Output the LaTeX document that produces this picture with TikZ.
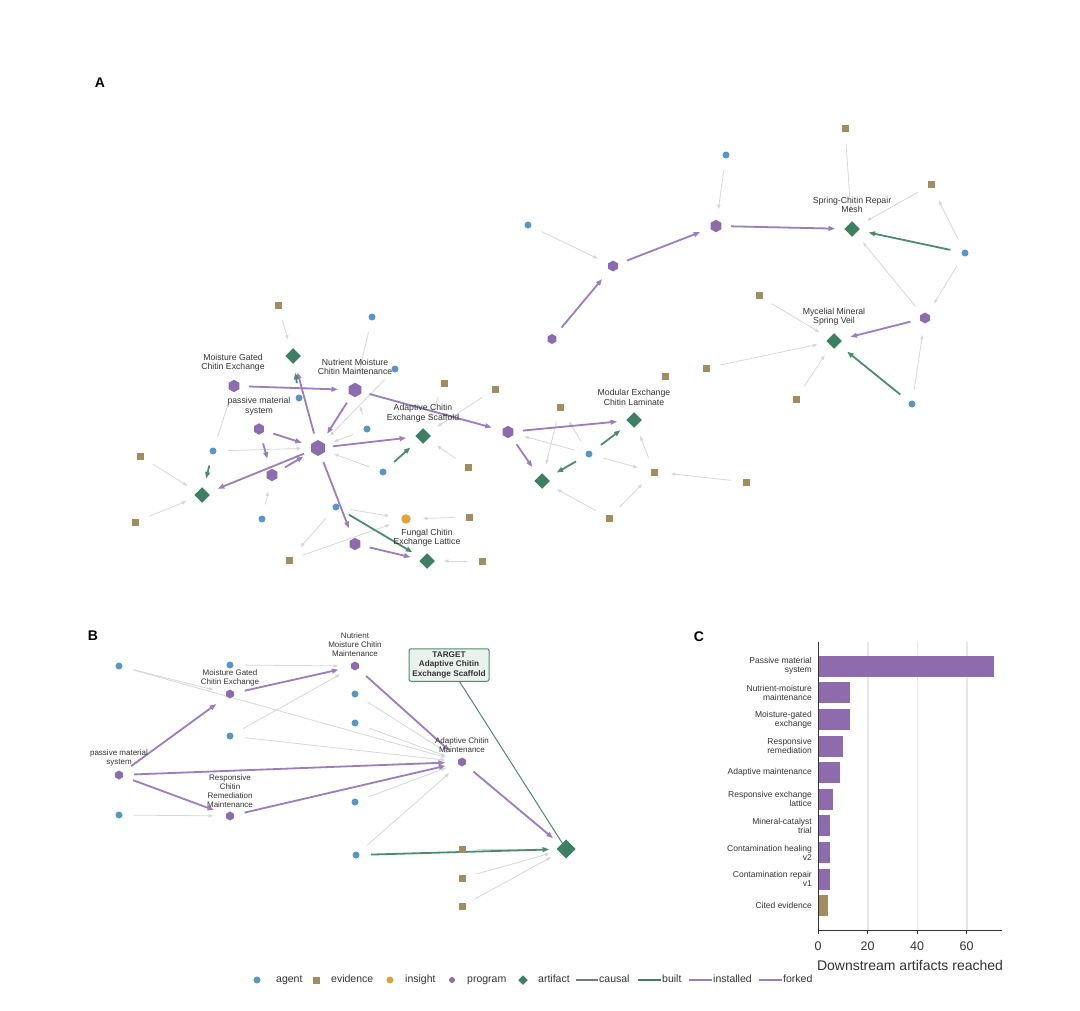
\documentclass[tikz,border=0pt]{standalone}
\usepackage{fontspec}
\setmainfont{Liberation Sans}
\usetikzlibrary{shapes.geometric,arrows.meta}
\definecolor{cAg}{HTML}{5697C5}
\definecolor{cEv}{HTML}{A38C5E}
\definecolor{cIn}{HTML}{E0A53A}
\definecolor{cPg}{HTML}{8E6BAC}
\definecolor{cAr}{HTML}{3D7F62}
\definecolor{cPE}{HTML}{9B7DC0}
\definecolor{cGE}{HTML}{4B8C6E}
\definecolor{cLE}{HTML}{D4D8DB}
\definecolor{cCa}{HTML}{6B7A86}
\definecolor{cTb}{HTML}{E9F2ED}
\definecolor{cGr}{HTML}{E6E6E6}
\definecolor{cTx}{HTML}{333333}
\pgfdeclarelayer{bg}
\pgfdeclarelayer{paper}
\pgfsetlayers{paper,bg,main}
\begin{document}
\begin{tikzpicture}[x=1pt,y=-1pt,
 mk/.style={inner sep=0pt, outer sep=0pt},
 ag/.style={mk, circle, fill=cAg, minimum size=7pt},
 ev/.style={mk, rectangle, fill=cEv, minimum size=7pt},
 ins/.style={mk, circle, fill=cIn, minimum size=9.5pt},
 pg/.style={mk, regular polygon, regular polygon sides=6, shape border rotate=30, fill=cPg, minimum size=#1},
 pg/.default=12.5pt,
 pgb/.style={pg=9pt},
 ar/.style={mk, diamond, aspect=1, fill=cAr, minimum size=#1},
 ar/.default=15.5pt,
 le/.style={draw=cLE, line width=0.8pt, -{Triangle[length=4.5pt,width=3.2pt]}, shorten <=15pt, shorten >=17pt},
 pe/.style={draw=cPE, line width=1.8pt, -{Triangle[length=6.5pt,width=4.8pt]}, shorten <=15pt, shorten >=17pt},
 ge/.style={draw=cGE, line width=1.8pt, -{Triangle[length=6.5pt,width=4.8pt]}, shorten <=15pt, shorten >=17pt},
 lblA/.style={font=\fontsize{8.7}{9.5}\selectfont, align=center, text=cTx, inner sep=0pt},
 lblB/.style={font=\fontsize{8}{9}\selectfont, align=center, text=cTx, inner sep=0pt},
 clab/.style={font=\fontsize{8.5}{9}\selectfont, align=right, text=cTx, inner sep=0pt},
 pnl/.style={font=\bfseries\fontsize{14}{16}\selectfont, text=black, inner sep=0pt},
 lgt/.style={font=\fontsize{10.5}{12}\selectfont, text=cTx, inner sep=0pt, anchor=west, text height=7.6pt, text depth=2.2pt},
 tick/.style={font=\fontsize{12.5}{14}\selectfont, text=cTx, inner sep=0pt}
]
\useasboundingbox (0,0) rectangle (1080,1011);
\begin{pgfonlayer}{paper}
\fill[white] (0,0) rectangle (1080,1011);
\end{pgfonlayer}

% ---------------- Panel A ----------------
\node[pnl] (LA) at (100,83) {A};
% top right cluster
\node[ag] (a1) at (726,155) {};
\node[ag] (a2) at (528,225) {};
\node[pg] (p1) at (716,226) {};
\node[pg=11pt] (p2) at (613,266) {};
\node[pg=10pt] (p3) at (552,339) {};
\node[ev] (e1) at (845,129) {};
\node[ev] (e2) at (931,185) {};
\node[ar] (f1) at (852,229) {};
\node[ag] (a3) at (965,253) {};
\node[ev] (e3) at (759,296) {};
\node[pg=11pt] (p4) at (925,318) {};
\node[ar] (f2) at (834,341) {};
\node[ev] (e4) at (706,368) {};
\node[ev] (e5) at (796,399) {};
\node[ag] (a4) at (912,404) {};
\node[ev] (e6) at (665,376) {};
% middle right
\node[ev] (e7) at (495,389) {};
\node[ev] (e8) at (444,383) {};
\node[ev] (e9) at (560,407) {};
\node[pg] (p5) at (508,432) {};
\node[ar] (f3) at (634,420) {};
\node[ag] (a5) at (589,454) {};
\node[ev] (e10) at (654,472) {};
\node[ev] (e11) at (746,482) {};
\node[ar] (f4) at (542,481) {};
\node[ev] (e12) at (609,518) {};
% centre left
\node[ar] (f5) at (423,436) {};
\node[ev] (e13) at (468,467) {};
\node[ag] (a6) at (383,472) {};
\node[ag] (a7) at (367,429) {};
\node[pg=16pt] (hub) at (318,448) {};
\node[pg=14.5pt] (p6) at (355,390) {};
\node[ag] (a8) at (372,317) {};
\node[ag] (a9) at (395,369) {};
\node[pg] (p7) at (234,386) {};
\node[ar] (f6) at (293,356) {};
\node[ev] (e14) at (278,306) {};
\node[ag] (a10) at (299,398) {};
\node[pg=11.5pt] (p8) at (259,429) {};
\node[ag] (a11) at (213,451) {};
\node[pg] (p9) at (272,475) {};
\node[ar] (f7) at (202,495) {};
\node[ag] (a12) at (262,519) {};
\node[ag] (a13) at (336,507) {};
\node[ins] (i1) at (406,519) {};
\node[pg] (p10) at (355,544) {};
\node[ar] (f8) at (427,561) {};
\node[ev] (e15) at (469,517) {};
\node[ev] (e16) at (482,561) {};
\node[ev] (e17) at (289,560) {};
\node[ev] (e18) at (140,456) {};
\node[ev] (e19) at (135,522) {};

% labels A
\node[lblA] (lf1) at (852,205) {Spring-Chitin Repair\\Mesh};
\node[lblA] (lf2) at (834,317) {Mycelial Mineral\\Spring Veil};
\node[lblA] (lf3) at (634,397.5) {Modular Exchange\\Chitin Laminate};
\node[lblA] (lf5) at (423,413) {Adaptive Chitin\\Exchange Scaffold};
\node[lblA] (lp6) at (355,366.7) {Nutrient Moisture\\Chitin Maintenance};
\node[lblA] (lp7) at (233,363) {Moisture Gated\\Chitin Exchange};
\node[lblA] (lp8) at (259,406) {passive material\\system};
\node[lblA] (lf8) at (427,537.5) {Fungal Chitin\\Exchange Lattice};

\begin{pgfonlayer}{bg}
% light edges
\draw[le] (a1.center) -- (p1.center);
\draw[le] (a2.center) -- (p2.center);
\draw[le] (e1.center) -- (f1.center);
\draw[le] (e2.center) -- (f1.center);
\draw[le] (a3.center) -- (e2.center);
\draw[le] (a3.center) -- (p4.center);
\draw[le] (p4.center) -- (f1.center);
\draw[le] (e3.center) -- (f2.center);
\draw[le] (e4.center) -- (f2.center);
\draw[le] (e5.center) -- (f2.center);
\draw[le] (a4.center) -- (p4.center);
\draw[le] (a5.center) -- (p5.center);
\draw[le] (a5.center) -- (e10.center);
\draw[le] (a5.center) -- (e9.center);
\draw[le] (e9.center) -- (f4.center);
\draw[le] (e10.center) -- (f3.center);
\draw[le] (e11.center) -- (e10.center);
\draw[le] (e12.center) -- (f4.center);
\draw[le] (e12.center) -- (e10.center);
\draw[le] (e7.center) -- (f5.center);
\draw[le] (e8.center) -- (f5.center);
\draw[le] (e13.center) -- (f5.center);
\draw[le] (a7.center) -- (hub.center);
\draw[le] (a7.center) -- (p6.center);
\draw[le] (a9.center) -- (hub.center);
\draw[le] (a8.center) -- (p6.center);
\draw[le] (a6.center) -- (hub.center);
\draw[le] (e14.center) -- (f6.center);
\draw[le] (a11.center) -- (hub.center);
\draw[le] (a11.center) -- (p7.center);
\draw[le] (a12.center) -- (p9.center);
\draw[le] (e18.center) -- (f7.center);
\draw[le] (e19.center) -- (f7.center);
\draw[le] (a13.center) -- (i1.center);
\draw[le] (a13.center) -- (e17.center);
\draw[le] (e17.center) -- (i1.center);
\draw[le] (e15.center) -- (i1.center);
\draw[le] (e16.center) -- (f8.center);
% installed / forked (purple)
\draw[pe] (p3.center) -- (p2.center);
\draw[pe] (p2.center) -- (p1.center);
\draw[pe] (p1.center) -- (f1.center);
\draw[pe] (p4.center) -- (f2.center);
\draw[pe] (p5.center) -- (f3.center);
\draw[pe] (p5.center) -- (f4.center);
\draw[pe] (p7.center) -- (p6.center);
\draw[pe] (p6.center) -- (hub.center);
\draw[pe] (p6.center) -- (p5.center);
\draw[pe] (hub.center) -- (f6.center);
\draw[pe] (hub.center) -- (f5.center);
\draw[pe] (hub.center) -- (p10.center);
\draw[pe] (hub.center) -- (f7.center);
\draw[pe] (p8.center) -- (hub.center);
\draw[pe] (p8.center) -- (p9.center);
\draw[pe] (p9.center) -- (hub.center);
\draw[pe] (p10.center) -- (f8.center);
% built (green)
\draw[ge] (a3.center) -- (f1.center);
\draw[ge] (a4.center) -- (f2.center);
\draw[ge] (a5.center) -- (f3.center);
\draw[ge] (a5.center) -- (f4.center);
\draw[ge] (a6.center) -- (f5.center);
\draw[ge] (a10.center) -- (f6.center);
\draw[ge] (a11.center) -- (f7.center);
\draw[ge] (a13.center) -- (f8.center);
\end{pgfonlayer}

% ---------------- Panel B ----------------
\node[pnl] (LB) at (93,636) {B};
\node[ag] (ba1) at (119,666) {};
\node[ag] (ba2) at (230,665) {};
\node[pgb] (bp1) at (230,694) {};
\node[ag] (ba3) at (230,736) {};
\node[pgb] (bp2) at (119,775) {};
\node[ag] (ba4) at (119,815) {};
\node[pgb] (bp3) at (230,816) {};
\node[pgb] (bp4) at (355,666) {};
\node[ag] (ba5) at (355,694) {};
\node[ag] (ba6) at (355,723) {};
\node[ag] (ba7) at (355,802) {};
\node[ag] (ba8) at (356,855) {};
\node[pgb] (bp5) at (462,762) {};
\node[ar=19pt] (bt) at (566,849) {};
\node[ev] (be1) at (462,849) {};
\node[ev] (be2) at (462,878) {};
\node[ev] (be3) at (462,906) {};

\node[lblB] (lb1) at (355,644.3) {Nutrient\\Moisture Chitin\\Maintenance};
\node[lblB] (lb2) at (230,678) {Moisture Gated\\Chitin Exchange};
\node[lblB] (lb3) at (119,758) {passive material\\system};
\node[lblB] (lb4) at (230,790.7) {Responsive\\Chitin\\Remediation\\Maintenance};
\node[lblB] (lb5) at (462,745.5) {Adaptive Chitin\\Maintenance};
\node[draw=cGE, fill=cTb, rounded corners=2pt, line width=1pt, align=center,
      font=\bfseries\fontsize{8.2}{9.2}\selectfont, text=cTx, inner sep=0pt,
      minimum width=80pt, minimum height=32.5pt] (tbox) at (449,665) {TARGET\\Adaptive Chitin\\Exchange Scaffold};

\begin{pgfonlayer}{bg}
\draw[le] (ba1.center) -- (bp5.center);
\draw[le] (ba1.center) -- (bp1.center);
\draw[le] (ba2.center) -- (bp4.center);
\draw[le] (ba3.center) -- (bp4.center);
\draw[le] (ba3.center) -- (bp5.center);
\draw[le] (ba4.center) -- (bp3.center);
\draw[le] (ba5.center) -- (bp5.center);
\draw[le] (ba6.center) -- (bp5.center);
\draw[le] (ba7.center) -- (bp5.center);
\draw[le] (ba8.center) -- (bp5.center);
\draw[le] (be1.center) -- (bt.center);
\draw[le] (be2.center) -- (bt.center);
\draw[le] (be3.center) -- (bt.center);
\draw[pe] (bp2.center) -- (bp1.center);
\draw[pe] (bp2.center) -- (bp5.center);
\draw[pe] (bp2.center) -- (bp3.center);
\draw[pe] (bp3.center) -- (bp5.center);
\draw[pe] (bp1.center) -- (bp4.center);
\draw[pe] (bp4.center) -- (bp5.center);
\draw[pe] (bp5.center) -- (bt.center);
\draw[ge] (ba8.center) -- (bt.center);
\draw[draw=cGE, line width=1pt, shorten >=7pt] (tbox) -- (bt.center);
\end{pgfonlayer}

% ---------------- Panel C ----------------
\node[pnl] (LC) at (699,637) {C};
\foreach \gx in {868,917.5,967} {\draw[cGr, line width=1.1pt] (\gx,642) -- (\gx,930);}
\foreach \i/\v/\c/\t in {0/71/cPg/{Passive material\\system},
  1/13/cPg/{Nutrient-moisture\\maintenance},
  2/13/cPg/{Moisture-gated\\exchange},
  3/10/cPg/{Responsive\\remediation},
  4/9/cPg/{Adaptive maintenance},
  5/6/cPg/{Responsive exchange\\lattice},
  6/5/cPg/{Mineral-catalyst\\trial},
  7/5/cPg/{Contamination healing\\v2},
  8/5/cPg/{Contamination repair\\v1},
  9/4/cEv/{Cited evidence}}
{
  \pgfmathsetmacro\yc{666.2+26.62*\i}
  \fill[\c] (818,\yc-10.5) rectangle (818+2.475*\v,\yc+10.5);
  \node[clab, anchor=east] (cl\i) at (812,\yc) {\t};
}
\draw[cTx, line width=0.8pt] (818,642) -- (818,930) -- (1002,930);
\foreach \tv/\tx in {0/818,20/867.5,40/917,60/966.5} {
  \draw[cTx, line width=0.8pt] (\tx,930) -- (\tx,934);
  \node[tick] (ct\tv) at (\tx,946) {\tv};
}
\node[font=\fontsize{14}{16}\selectfont, text=cTx, inner sep=0pt] (cax) at (910,965) {Downstream artifacts reached};

% ---------------- Legend ----------------
\node[ag] (lg1) at (257,980) {};
\node[lgt] (lt1) at (276,980) {agent};
\node[ev] (lg2) at (316,980) {};
\node[lgt] (lt2) at (331,980) {evidence};
\node[ag, fill=cIn] (lg3) at (390,980) {};
\node[lgt] (lt3) at (405,980) {insight};
\node[mk, circle, fill=cPg, minimum size=6pt] (lg4) at (452,980) {};
\node[lgt] (lt4) at (467,980) {program};
\node[ar=9.5pt] (lg5) at (523,980) {};
\node[lgt] (lt5) at (538,980) {artifact};
\coordinate (lc1a) at (576,980); \coordinate (lc1b) at (598,980);
\draw[cCa, line width=1.6pt] (lc1a) -- (lc1b);
\node[lgt] (lt6) at (599,980) {causal};
\coordinate (lc2a) at (638,980); \coordinate (lc2b) at (661,980);
\draw[cAr, line width=1.6pt] (lc2a) -- (lc2b);
\node[lgt] (lt7) at (662,980) {built};
\coordinate (lc3a) at (689,980); \coordinate (lc3b) at (712,980);
\draw[cPE, line width=1.6pt] (lc3a) -- (lc3b);
\node[lgt] (lt8) at (713,980) {installed};
\coordinate (lc4a) at (759,980); \coordinate (lc4b) at (782,980);
\draw[cPE, line width=1.6pt] (lc4a) -- (lc4b);
\node[lgt] (lt9) at (783,980) {forked};
\end{tikzpicture}
\end{document}
